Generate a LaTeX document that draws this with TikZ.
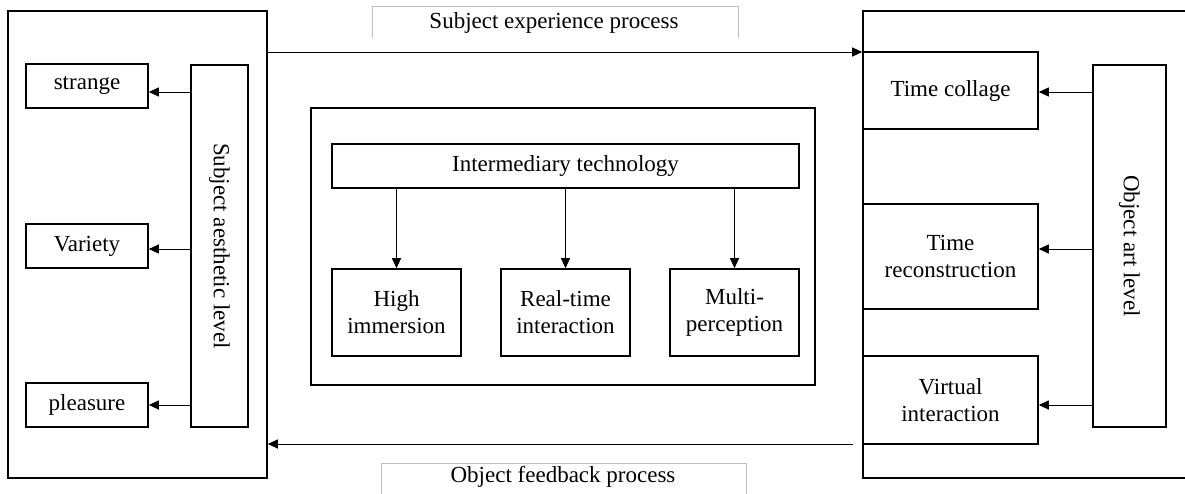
\documentclass[tikz,border=0pt]{standalone}
\usepackage{fontspec}
\setmainfont{Liberation Serif}
\usetikzlibrary{arrows.meta}
\tikzset{
  box/.style={draw=black, line width=1.6pt, inner sep=0pt, align=center, font=\fontsize{23}{27}\selectfont},
  arr/.style={draw=black, line width=1pt, -{Triangle[length=10pt,width=9pt]}},
  lbl/.style={inner sep=0pt, font=\fontsize{23}{27}\selectfont},
  lblframe/.style={draw=black!25, line width=1pt},
}
\begin{document}
\begin{tikzpicture}[x=1pt,y=-1pt]
\clip (0,0) rectangle (1185,493);
\fill[white] (0,0) rectangle (1185,493);
% left container
\node[box, minimum width=259pt, minimum height=467pt] (L) at (137.5,244.5) {};
\node[box, minimum width=122pt, minimum height=44pt] (strange) at (87,86) {strange};
\node[box, minimum width=122pt, minimum height=44pt] (variety) at (87,246) {Variety};
\node[box, minimum width=122pt, minimum height=44pt] (pleasure) at (87,405) {pleasure};
\node[box, rotate=-90, minimum width=362pt, minimum height=57pt] (sal) at (219.3,246) {Subject aesthetic level};
% right container
\node[box, minimum width=340pt, minimum height=467pt] (R) at (1033,244.5) {};
\node[box, minimum width=175pt, minimum height=77pt] (tc) at (950.5,90.5) {Time collage};
\node[box, minimum width=175pt, minimum height=105pt] (tr) at (950.5,256.5) {Time\\reconstruction};
\node[box, minimum width=175pt, minimum height=88pt] (vi) at (950.5,400) {Virtual\\interaction};
\node[box, rotate=-90, minimum width=362pt, minimum height=73pt] (oal) at (1129.5,246) {Object art level};
% middle
\node[box, minimum width=504pt, minimum height=277pt] (mid) at (563,246.5) {};
\node[box, minimum width=467pt, minimum height=44pt] (it) at (565.5,166) {Intermediary technology};
\node[box, minimum width=129pt, minimum height=87pt] (hi) at (396.5,312.5) {High\\immersion};
\node[box, minimum width=129pt, minimum height=87pt] (rt) at (565.5,312.5) {Real-time\\interaction};
\node[box, minimum width=129pt, minimum height=87pt] (mp) at (734.5,312.5) {Multi-\\perception};
% arrow levels
\coordinate (y1) at (0,92);
\coordinate (y2) at (0,249);
\coordinate (y3) at (0,405);
\coordinate (ytop) at (0,52);
\coordinate (ybot) at (0,444);
\coordinate (fbstart) at (853,444);
\draw[arr] (sal.south |- y1) -- (strange.east |- y1);
\draw[arr] (sal.south |- y2) -- (variety.east |- y2);
\draw[arr] (sal.south |- y3) -- (pleasure.east |- y3);
\draw[arr] (oal.south |- y1) -- (tc.east |- y1);
\draw[arr] (oal.south |- y2) -- (tr.east |- y2);
\draw[arr] (oal.south |- y3) -- (vi.east |- y3);
\draw[arr] (L.east |- ytop) -- (R.west |- ytop);
\draw[arr] (fbstart) -- (L.east |- ybot);
\draw[arr] (it.south -| hi.north) -- (hi.north);
\draw[arr] (it.south -| rt.north) -- (rt.north);
\draw[arr] (it.south -| mp.north) -- (mp.north);
% process labels
\node[lbl] (sep) at (554,23) {Subject experience process};
\draw[lblframe] (372,38) -- (372,6) -- (738,6) -- (738,38);
\node[lbl] (ofp) at (563,477) {Object feedback process};
\draw[lblframe] (381,500) -- (381,463) -- (746,463) -- (746,500);
\end{tikzpicture}
\end{document}
